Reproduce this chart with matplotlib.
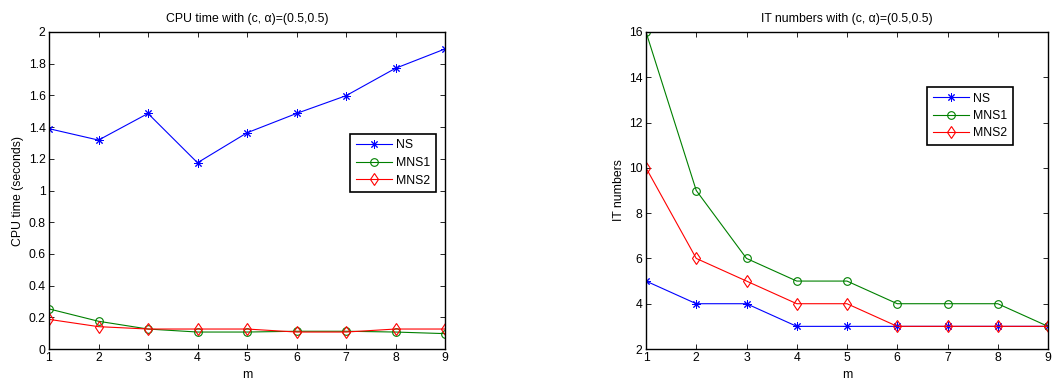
import numpy as np
import matplotlib
matplotlib.use('Agg')
import matplotlib.pyplot as plt

plt.rcParams['font.family'] = ['Liberation Sans', 'DejaVu Sans']

# data
m = [1, 2, 3, 4, 5, 6, 7, 8, 9]
cpu_ns = [1.39, 1.318, 1.486, 1.175, 1.364, 1.486, 1.598, 1.771, 1.893]
cpu_mns1 = [0.253, 0.175, 0.126, 0.107, 0.107, 0.112, 0.112, 0.107, 0.097]
cpu_mns2 = [0.187, 0.141, 0.126, 0.126, 0.126, 0.107, 0.107, 0.126, 0.126]
it_ns = [5, 4, 4, 3, 3, 3, 3, 3, 3]
it_mns1 = [16, 9, 6, 5, 5, 4, 4, 4, 3]
it_mns2 = [10, 6, 5, 4, 4, 3, 3, 3, 3]
labels = ['NS', 'MNS1', 'MNS2']

W, H = 1053, 380
FS = 8.8
fig = plt.figure(figsize=(W / 100, H / 100), dpi=100)


def make_axes(l, r, t, b):
    return fig.add_axes([l / W, 1 - b / H, (r - l) / W, (b - t) / H])


def style(ax):
    ax.tick_params(direction='in', top=True, right=True, labelsize=FS,
                   length=3.5, width=0.6, pad=2.5)
    for s in ax.spines.values():
        s.set_linewidth(1.0)


def draw(ax, ys):
    ax.plot(m, ys[0], color='blue', marker=(8, 2, 0), markersize=6, lw=0.8,
            markeredgewidth=0.7, label=labels[0])
    ax.plot(m, ys[1], color='green', marker='o', markersize=5.5, lw=0.8,
            mfc='none', markeredgewidth=0.8, label=labels[1])
    ax.plot(m, ys[2], color='red', marker='d', markersize=6.5, lw=0.8,
            mfc='none', markeredgewidth=0.8, label=labels[2])


def legend(ax, x, y):
    leg = ax.legend(loc='upper left', bbox_to_anchor=(x, y), fontsize=FS,
                    fancybox=False, framealpha=1, edgecolor='black',
                    borderpad=0.45, handlelength=3.0, labelspacing=0.45,
                    handletextpad=0.35, borderaxespad=0)
    leg.get_frame().set_linewidth(1.2)
    return leg


# left: CPU time
ax1 = make_axes(49, 445, 32, 349)
draw(ax1, [cpu_ns, cpu_mns1, cpu_mns2])
ax1.set_xlim(1, 9)
ax1.set_ylim(0, 2)
ax1.set_xticks(m)
ax1.set_yticks(np.arange(0, 2.01, 0.2))
ax1.set_yticklabels(['0', '0.2', '0.4', '0.6', '0.8', '1', '1.2', '1.4', '1.6', '1.8', '2'])
ax1.set_xlabel('m', fontsize=FS, labelpad=3)
ax1.set_ylabel('CPU time (seconds)', fontsize=FS, labelpad=3)
ax1.set_title('CPU time with (c, \u03b1)=(0.5,0.5)', fontsize=FS, pad=7)
style(ax1)
legend(ax1, (350 - 49) / 396, 1 - (134 - 32) / 317)

# right: IT numbers
ax2 = make_axes(646, 1048, 32, 349)
draw(ax2, [it_ns, it_mns1, it_mns2])
ax2.set_xlim(1, 9)
ax2.set_ylim(2, 16)
ax2.set_xticks(m)
ax2.set_yticks(range(2, 17, 2))
ax2.set_xlabel('m', fontsize=FS, labelpad=3)
ax2.set_ylabel('IT numbers', fontsize=FS, labelpad=3)
ax2.set_title('IT numbers with (c, \u03b1)=(0.5,0.5)', fontsize=FS, pad=7)
style(ax2)
legend(ax2, (927 - 646) / 402, 1 - (87 - 32) / 317)

fig.savefig('out.png', dpi=100)
